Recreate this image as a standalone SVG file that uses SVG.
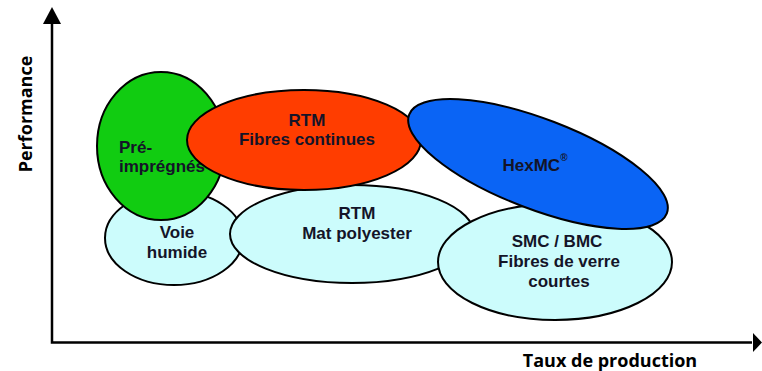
<svg xmlns="http://www.w3.org/2000/svg" width="762" height="371" viewBox="0 0 762 371">
<defs>
<style>
.lbl{font-family:"Liberation Sans",Arial,sans-serif;font-weight:bold;font-size:17px;fill:#141428;text-anchor:middle}
.st{text-anchor:start}
.ax{font-family:"Open Sans","Liberation Sans",sans-serif;font-weight:bold;font-size:18px;fill:#000;text-anchor:middle}
.e{stroke:#000;stroke-width:2}
.lb{fill:#ccfcfc}
.axis{stroke:#000;stroke-width:2.5;fill:none}
</style>
</defs>
<rect width="762" height="371" fill="#fff"/>
<g id="axes">
<path class="axis" d="M52 20 V342.5 H752"/>
<polygon points="52,7 43,24 61,24" fill="#000"/>
<polygon points="762,342.5 753,333 753,352" fill="#000"/>
<text class="ax" transform="translate(32,114) rotate(-90)">Performance</text>
<text class="ax" x="610" y="367">Taux de production</text>
</g>
<g id="voie-humide">
<ellipse class="e lb" cx="174" cy="238" rx="69" ry="47"/>
<text class="lbl" x="177" y="238">Voie</text>
<text class="lbl" x="177" y="258">humide</text>
</g>
<g id="rtm-mat">
<ellipse class="e lb" cx="352" cy="234" rx="122" ry="49"/>
<text class="lbl" x="357" y="219">RTM</text>
<text class="lbl" x="357" y="239">Mat polyester</text>
</g>
<g id="smc-bmc">
<ellipse class="e lb" cx="555" cy="262" rx="117" ry="58"/>
<text class="lbl" x="557" y="247">SMC / BMC</text>
<text class="lbl" x="559" y="267">Fibres de verre</text>
<text class="lbl" x="559" y="287">courtes</text>
</g>
<g id="pre-impregnes">
<ellipse class="e" cx="161" cy="146" rx="64" ry="74" fill="#11cc11"/>
<text class="lbl st" x="119" y="153">Pré-</text>
<text class="lbl st" x="119" y="172">imprégnés</text>
</g>
<g id="rtm-fibres">
<ellipse class="e" cx="304" cy="140" rx="117" ry="50" fill="#ff3d00"/>
<text class="lbl" x="307" y="126">RTM</text>
<text class="lbl" x="307" y="145">Fibres continues</text>
</g>
<g id="hexmc">
<ellipse class="e" cx="538" cy="164" rx="138" ry="45" fill="#0a64f5" transform="rotate(21 538 164)"/>
<text class="lbl" x="535" y="171">HexMC<tspan font-size="10" dy="-10">®</tspan></text>
</g>
<g id="connectors"></g>
</svg>
